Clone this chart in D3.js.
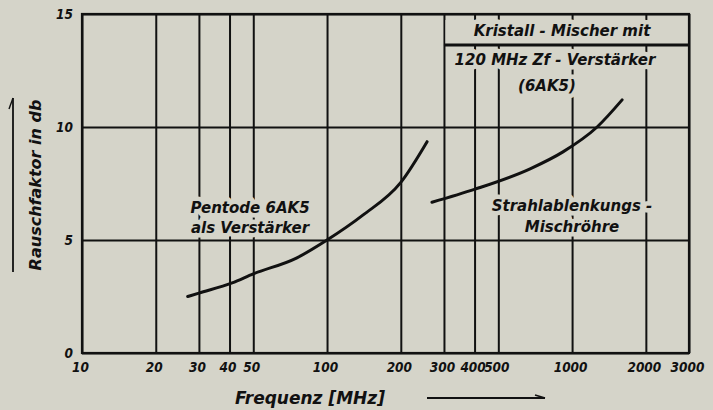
<!DOCTYPE html>
<html>
<head>
<meta charset="utf-8">
<script src="https://cdn.jsdelivr.net/npm/d3@7"></script>
<style>
  body { margin: 0; background: #d5d4c9; }
  svg { display: block; }
  text { font-family: 'DejaVu Sans', sans-serif; font-weight: bold; font-style: italic; fill: #111; }
  .tick text { font-family: 'DejaVu Sans Condensed', 'DejaVu Sans', sans-serif; font-size: 13.5px; }
</style>
</head>
<body>
<svg width="713" height="410"></svg>
<script>
// grid / tick values
const freqTicks = [10, 20, 30, 40, 50, 100, 200, 300, 400, 500, 1000, 2000, 3000];
const noiseTicks = [0, 5, 10, 15];

// Pentode 6AK5 als Verstärker
const pentodeFreq  = [27, 30, 41, 50, 75, 100, 140, 200, 256];
const pentodeNoise = [2.5, 2.65, 3.1, 3.5, 4.2, 5.0, 6.1, 7.55, 9.35];

// Strahlablenkungs-Mischröhre
const strahlFreq  = [268, 402, 674, 918, 1265, 1600];
const strahlNoise = [6.67, 7.25, 8.15, 8.9, 10.0, 11.2];

const bg = '#d5d4c9';
const ink = '#111';

const svg = d3.select('svg'),
      margin = { top: 14, right: 24, bottom: 57, left: 82 },
      width = +svg.attr('width') - margin.left - margin.right,
      height = +svg.attr('height') - margin.top - margin.bottom;

svg.append('rect').attr('width', 713).attr('height', 410).attr('fill', bg);

const g = svg.append('g')
    .attr('transform', 'translate(' + margin.left + ',' + margin.top + ')');

const x = d3.scaleLog().domain([10, 3000]).range([0, width]);
const y = d3.scaleLinear().domain([0, 15]).range([height, 0]);

// vertical grid + frequency labels
const xg = g.append('g')
    .attr('transform', 'translate(0,' + height + ')')
    .call(d3.axisBottom(x)
      .tickValues(freqTicks)
      .tickFormat(d => d)
      .tickSize(-height)
      .tickPadding(9));
xg.select('.domain').remove();
xg.selectAll('.tick line').attr('stroke', ink).attr('stroke-width', 2);
xg.selectAll('.tick text').attr('x', -2).attr('fill', ink);

// header box of the table (top right)
const boxTop = 31;
g.append('rect')
    .attr('x', x(300) + 1.5)
    .attr('y', 6)
    .attr('width', x(3000) - x(300) - 3)
    .attr('height', boxTop - 6)
    .attr('fill', bg);

// text annotations with paper-coloured halo
function label(lines, cx, y0, lh) {
  const t = g.append('text')
      .attr('text-anchor', 'middle')
      .attr('font-size', 15)
      .attr('stroke', bg)
      .attr('stroke-width', 9)
      .attr('stroke-linejoin', 'round')
      .attr('paint-order', 'stroke');
  lines.forEach((s, i) => {
    t.append('tspan').attr('x', cx).attr('y', y0 + i * lh).text(s);
  });
}
label(['Pentode 6AK5', 'als Verstärker'], 168, 199, 20);
label(['Strahlablenkungs -', 'Mischröhre'], 490, 197, 21);
label(['Kristall - Mischer mit'], 480, 22, 0);
label(['120 MHz Zf - Verstärker'], 473, 51, 0);
label(['(6AK5)'], 465, 77, 0);

// horizontal grid + noise labels
const yg = g.append('g')
    .call(d3.axisLeft(y)
      .tickValues(noiseTicks)
      .tickSize(-width)
      .tickPadding(9));
yg.select('.domain').remove();
yg.selectAll('.tick line').attr('stroke', ink).attr('stroke-width', 2);
yg.selectAll('.tick text').attr('fill', ink);

g.append('rect')
    .attr('width', width).attr('height', height)
    .attr('fill', 'none').attr('stroke', ink).attr('stroke-width', 2.2);

g.append('line')
    .attr('x1', x(300)).attr('x2', width)
    .attr('y1', boxTop).attr('y2', boxTop)
    .attr('stroke', ink).attr('stroke-width', 3);

// curves
const line = d3.line()
    .x(d => x(d[0]))
    .y(d => y(d[1]))
    .curve(d3.curveMonotoneX);

[[pentodeFreq, pentodeNoise], [strahlFreq, strahlNoise]].forEach(([f, n]) => {
  g.append('path')
      .datum(f.map((v, i) => [v, n[i]]))
      .attr('fill', 'none')
      .attr('stroke', ink)
      .attr('stroke-width', 3)
      .attr('stroke-linecap', 'round')
      .attr('d', line);
});

// axis titles
svg.append('text')
    .attr('x', 235).attr('y', 404)
    .attr('font-size', 17)
    .text('Frequenz [MHz]');
svg.append('line')
    .attr('x1', 427).attr('x2', 545).attr('y1', 398).attr('y2', 398)
    .attr('stroke', ink).attr('stroke-width', 1.8);
svg.append('line')
    .attr('x1', 545).attr('x2', 535).attr('y1', 398).attr('y2', 395)
    .attr('stroke', ink).attr('stroke-width', 1.6);

svg.append('text')
    .attr('transform', 'translate(41,185) rotate(-90)')
    .attr('text-anchor', 'middle')
    .attr('font-size', 16)
    .text('Rauschfaktor in db');
svg.append('line')
    .attr('x1', 13).attr('x2', 13).attr('y1', 98).attr('y2', 272)
    .attr('stroke', ink).attr('stroke-width', 1.8);
svg.append('line')
    .attr('x1', 13).attr('x2', 9).attr('y1', 98).attr('y2', 109)
    .attr('stroke', ink).attr('stroke-width', 1.4);
</script>
</body>
</html>
